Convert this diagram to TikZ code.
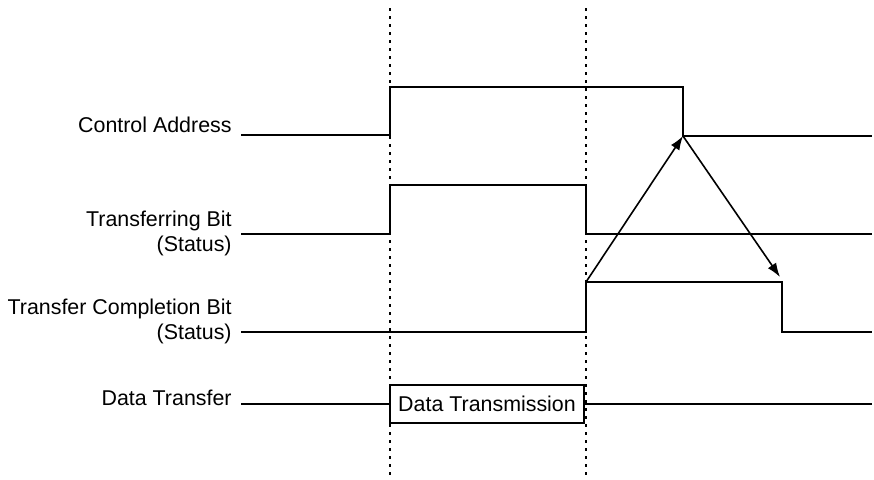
\documentclass[tikz,border=0pt]{standalone}
\usepackage{fontspec}
\setmainfont{Liberation Sans}
\usetikzlibrary{arrows.meta,positioning}
\tikzset{sig/.style={draw=black,line width=0.8pt}, guide/.style={draw=black,line width=0.8pt,dash pattern=on 1.5pt off 2.5pt}, lbl/.style={anchor=east,align=right,inner sep=0pt,font=\fontsize{10.7}{12.5}\selectfont}, frame/.style={draw=black,line width=0.9pt,inner sep=0pt,minimum width=97pt,minimum height=19pt,font=\fontsize{10.7}{12.5}\selectfont}, arr/.style={-{Latex[length=7pt,width=5pt]},line width=0.8pt}}
\begin{document}
\begin{tikzpicture}[x=0.5pt,y=-0.5pt]
\useasboundingbox (0,0) rectangle (874,479);
\foreach \x/\n in {390/start,586/stop}{\coordinate (\n top) at (\x,8);\coordinate (\n bot) at (\x,479);\draw[guide](\n top)--(\n bot);}
\node[lbl] (ca) at (232,125) {Control Address};
\node[lbl] (tb) at (232,233) {Transferring Bit\\(Status)};
\node[lbl] (tc) at (232,321) {Transfer Completion Bit\\(Status)};
\node[lbl] (dt) at (232,398) {Data Transfer};
\coordinate (caFall) at (683,136);
\coordinate (tcRise) at (586,282);
\coordinate (tcFall) at (780,277);
\draw[sig](241,135)--(390,135)--(390,87)--(683,87)--(caFall)--(872,136);
\draw[sig](241,234)--(390,234)--(390,185)--(586,185)--(586,234)--(872,234);
\draw[sig](241,332)--(586,332)--(tcRise)--(782,282)--(782,332)--(872,332);
\node[frame] (dtx) at (487,404) {Data Transmission};
\draw[sig](241,404)--(dtx.west);
\draw[sig](dtx.east)--(872,404);
\draw[arr](tcRise)--(caFall);
\draw[arr](caFall)--(tcFall);
\end{tikzpicture}
\end{document}
